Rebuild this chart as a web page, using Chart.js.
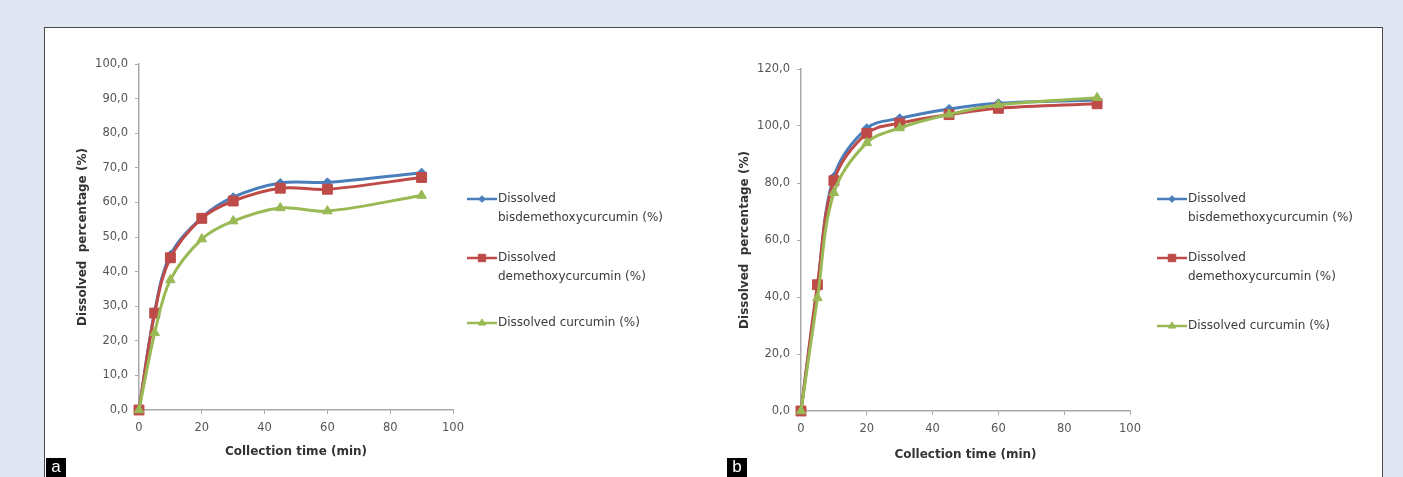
<!DOCTYPE html>
<html>
<head>
<meta charset="utf-8">
<script src="https://cdn.jsdelivr.net/npm/chart.js@4.4.1/dist/chart.umd.min.js"></script>
<style>
  body { margin: 0; width: 1403px; height: 477px; overflow: hidden; background: #e2e6f2; position: relative; font-family: "DejaVu Sans", sans-serif; }
  #panel { position: absolute; left: 44px; top: 27px; width: 1337px; height: 470px; background: #fff; border: 1px solid #4a4a4a; }
  canvas { position: absolute; }
  #chart-a { left: 45px; top: 28px; }
  #chart-b { left: 706px; top: 28px; }
  .tag { position: absolute; top: 458px; width: 20px; height: 19px; background: #000; color: #fff; font: 17px "Liberation Sans", sans-serif; line-height: 18px; text-align: center; }
</style>
</head>
<body>
<div id="panel"></div>
<canvas id="chart-a" width="655" height="449"></canvas>
<canvas id="chart-b" width="675" height="449"></canvas>
<div class="tag" style="left:46px">a</div>
<div class="tag" style="left:727px">b</div>
<script>
// Collection times (min)
const times = [0, 5, 10, 20, 30, 45, 60, 90];

// Panel a - dissolved percentage (%)
const bisA = [0, 28.5, 44.8, 55.6, 61.5, 65.6, 65.8, 68.6];
const demA = [0, 28.0, 44.0, 55.4, 60.4, 64.1, 63.8, 67.2];
const curA = [0, 22.3, 37.6, 49.4, 54.6, 58.4, 57.5, 62.0];

// Panel b - dissolved percentage (%)
const bisB = [0, 43.5, 82.2, 99.2, 102.7, 106.0, 108.0, 109.1];
const demB = [0, 44.3, 80.8, 97.4, 101.0, 104.0, 106.2, 107.8];
const curB = [0, 39.7, 76.6, 94.1, 99.3, 104.1, 107.4, 109.9];

// Legend text, split over lines like the original
const legendLines = [
    ['Dissolved', 'bisdemethoxycurcumin (%)'],
    ['Dissolved', 'demethoxycurcumin (%)'],
    ['Dissolved curcumin (%)']
];
const seriesNames = legendLines.map(l => l.join(' '));

const xTitle = 'Collection time (min)';
const yTitle = 'Dissolved  percentage (%)';

const BLUE = '#4a7ebb';
const RED = '#be4b48';
const GREEN = '#98b954';
const AXIS = '#a9a9a9';
const TICK_TEXT = '#555555';

// Draws the legend to the right of the plot, with wrapped labels
const sideLegend = {
    id: 'sideLegend',
    afterDraw(chart, args, opts) {
        const ctx = chart.ctx;
        chart.data.datasets.forEach((ds, i) => {
            const y = opts.rows[i];
            ctx.save();
            ctx.strokeStyle = ds.borderColor;
            ctx.fillStyle = ds.backgroundColor;
            ctx.lineWidth = 2.5;
            ctx.beginPath();
            ctx.moveTo(opts.x, y);
            ctx.lineTo(opts.x + opts.lineLength, y);
            ctx.stroke();
            ctx.lineWidth = 1;
            Chart.helpers.drawPoint(ctx, {
                pointStyle: ds.pointStyle,
                radius: ds.pointRadius * 0.75,
                borderWidth: 1,
                rotation: 0
            }, opts.x + opts.lineLength / 2, y);
            ctx.fillStyle = '#3a3a3a';
            ctx.font = '12px "DejaVu Sans", sans-serif';
            ctx.textBaseline = 'middle';
            legendLines[i].forEach((line, k) => {
                ctx.fillText(line, opts.x + opts.lineLength + 1, y + k * opts.lineGap);
            });
            ctx.restore();
        });
    }
};

function makeDataset(label, data, color, style, radius, order) {
    return {
        label: label,
        data: times.map((t, i) => ({ x: t, y: data[i] })),
        borderColor: color,
        backgroundColor: color,
        borderWidth: 3,
        pointStyle: style,
        pointRadius: radius,
        pointBorderWidth: 1,
        tension: 0.35,
        clip: false,
        order: order
    };
}

function makeChart(id, series, yMax, yStep, geom) {
    const ctx = document.getElementById(id).getContext('2d');
    return new Chart(ctx, {
        type: 'line',
        data: {
            datasets: [
                makeDataset(seriesNames[0], series[0], BLUE, 'rectRot', 4.5, 3),
                makeDataset(seriesNames[1], series[1], RED, 'rect', 7, 2),
                makeDataset(seriesNames[2], series[2], GREEN, 'triangle', 5.5, 1)
            ]
        },
        options: {
            responsive: false,
            animation: false,
            layout: {
                padding: { left: 0, top: geom.top, right: geom.right, bottom: 0 }
            },
            plugins: {
                legend: { display: false },
                tooltip: { enabled: false },
                sideLegend: geom.legend
            },
            scales: {
                x: {
                    type: 'linear',
                    min: 0,
                    max: 100,
                    ticks: {
                        stepSize: 20,
                        color: TICK_TEXT,
                        padding: 7,
                        font: { family: 'DejaVu Sans', size: 11.5 }
                    },
                    grid: { drawOnChartArea: false, drawTicks: true, tickLength: 4, color: AXIS },
                    border: { color: AXIS, width: 1.5 },
                    title: {
                        display: true,
                        text: xTitle,
                        color: '#333',
                        font: { family: 'DejaVu Sans', size: 12, weight: 'bold' },
                        padding: { top: 0, bottom: geom.xTitlePad }
                    },
                    afterFit: (scale) => { scale.height = geom.xHeight; }
                },
                y: {
                    min: 0,
                    max: yMax,
                    ticks: {
                        stepSize: yStep,
                        color: TICK_TEXT,
                        padding: 7,
                        font: { family: 'DejaVu Sans', size: 11.5 },
                        callback: (v) => v.toFixed(1).replace('.', ',')
                    },
                    grid: { drawOnChartArea: false, drawTicks: true, tickLength: 4, color: AXIS },
                    border: { color: AXIS, width: 1.5 },
                    title: {
                        display: true,
                        text: yTitle,
                        color: '#333',
                        font: { family: 'DejaVu Sans', size: 12, weight: 'bold' },
                        padding: { top: geom.yTitlePad, bottom: 0 }
                    },
                    afterFit: (scale) => { scale.width = geom.yWidth; }
                }
            }
        },
        plugins: [sideLegend]
    });
}

makeChart('chart-a', [bisA, demA, curA], 100, 10, {
    top: 36, right: 247, yWidth: 94, xHeight: 67,
    yTitlePad: 31, xTitlePad: 18,
    legend: { x: 422, lineLength: 30, lineGap: 19, rows: [171, 230, 295] }
});

makeChart('chart-b', [bisB, demB, curB], 120, 20, {
    top: 41, right: 251, yWidth: 95, xHeight: 66,
    yTitlePad: 32, xTitlePad: 15,
    legend: { x: 451, lineLength: 30, lineGap: 19, rows: [171, 230, 298] }
});
</script>
</body>
</html>
